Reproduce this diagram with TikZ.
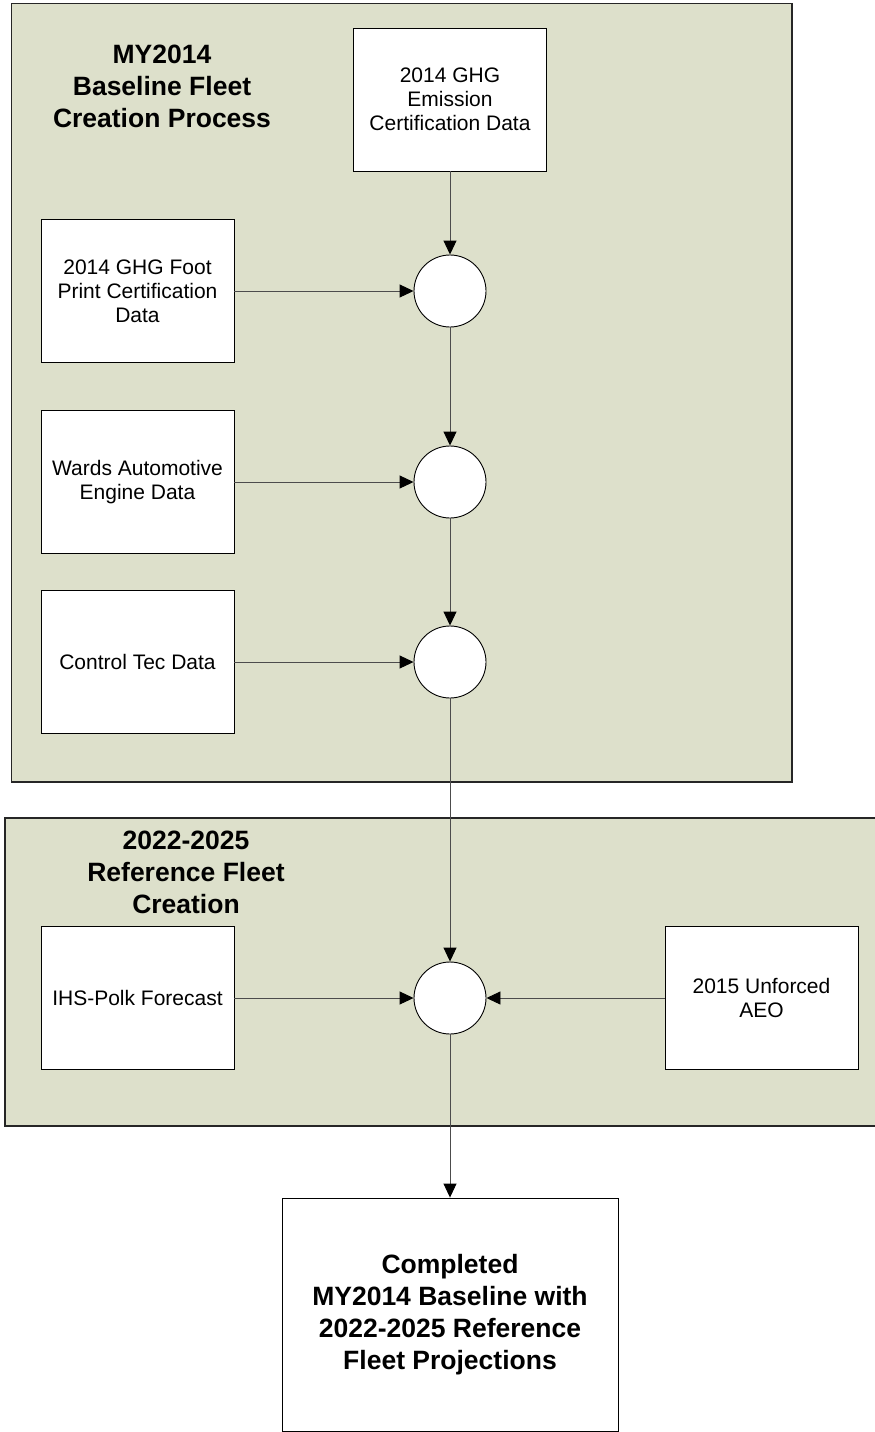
\documentclass[tikz,border=0pt]{standalone}
\usepackage{fontspec}
\setmainfont{Liberation Sans}
\usetikzlibrary{arrows.meta}
\definecolor{panelgreen}{RGB}{221,224,203}

\begin{document}
\begin{tikzpicture}[x=1pt,y=-1pt,
panel/.style={draw=black!85,line width=1.3pt,fill=panelgreen},
source/.style={draw,fill=white,line width=0.9pt,minimum width=193pt,minimum height=143pt,align=center,inner sep=0pt,font=\fontsize{21}{24}\selectfont},
merge/.style={circle,draw,fill=white,line width=0.9pt,minimum size=72pt,inner sep=0pt},
title/.style={align=center,font=\bfseries\fontsize{26.5}{32}\selectfont},
flow/.style={-{Triangle[length=14pt,width=13pt,color=black]},line width=0.9pt,draw=black!70},
]
\useasboundingbox(0,0)rectangle(875,1432);

%panels
\draw[panel](11.5,3.5)rectangle(792,782);
\draw[panel](5,818)rectangle(880,1126);

%baseline fleet
\node[title](basetitle)at(162,86){MY2014\\Baseline Fleet\\Creation Process};
\node[source](emission)at(450,99.5){2014 GHG\\Emission\\Certification Data};
\node[source](footprint)at(137.5,291){2014 GHG Foot\\Print Certification\\Data};
\node[source](wards)at(137.5,482){Wards Automotive\\Engine Data};
\node[source](controltec)at(137.5,662){Control Tec Data};
\node[merge](mergeA)at(450,291){};
\node[merge](mergeB)at(450,482){};
\node[merge](mergeC)at(450,662){};

%reference fleet
\node[title](reftitle)at(186,872){2022-2025\\Reference Fleet\\Creation};
\node[source](polk)at(137.5,998){IHS-Polk Forecast};
\node[source](aeo)at(761.5,998){2015 Unforced\\AEO};
\node[merge](mergeD)at(450,998){};

%result
\node[source,minimum width=336pt,minimum height=233pt,font=\bfseries\fontsize{26.5}{32}\selectfont](result)at(450,1314.5){Completed\\MY2014 Baseline with\\2022-2025 Reference\\Fleet Projections};

%flows
\draw[flow](emission)--(mergeA);
\draw[flow](footprint)--(mergeA);
\draw[flow](mergeA)--(mergeB);
\draw[flow](wards)--(mergeB);
\draw[flow](mergeB)--(mergeC);
\draw[flow](controltec)--(mergeC);
\draw[flow](mergeC)--(mergeD);
\draw[flow](polk)--(mergeD);
\draw[flow](aeo)--(mergeD);
\draw[flow](mergeD)--(result);

\end{tikzpicture}
\end{document}
